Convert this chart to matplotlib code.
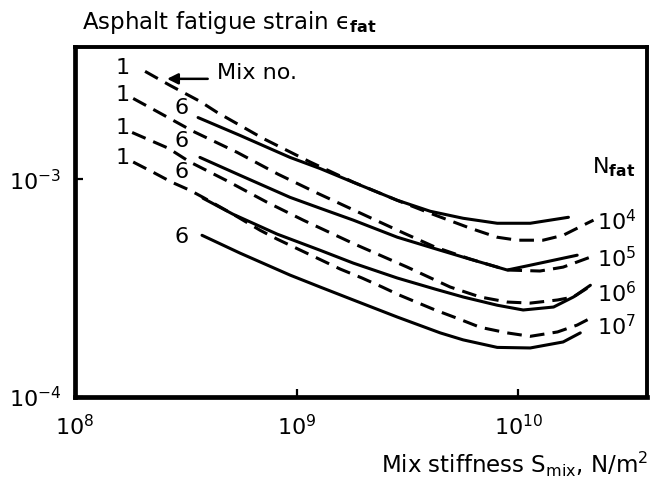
import matplotlib
matplotlib.use("Agg")
import matplotlib.pyplot as plt

# values (mix stiffness N/m2, fatigue strain)
# mix 1 -> dashed, mix 6 -> solid, one pair per N_fat
n_labels = ["$10^4$", "$10^5$", "$10^6$", "$10^7$"]

mix1_x = [
    [2.07e8, 2.68e8, 3.66e8, 4.37e8, 7.05e8, 1.15e9, 1.80e9, 2.84e9, 4.0e9,
     6.06e9, 8.0e9, 9.9e9, 1.29e10, 1.59e10, 2.04e10, 2.18e10],
    [1.83e8, 2.30e8, 3.41e8, 5.38e8, 8.24e8, 1.24e9, 2.08e9, 3.05e9, 4.21e9,
     6.06e9, 8.9e9, 1.25e10, 1.59e10, 2.11e10],
    [1.81e8, 2.63e8, 3.30e8, 4.80e8, 7.35e8, 1.07e9, 1.83e9, 3.15e9, 4.92e9,
     6.72e9, 8.9e9, 1.13e10, 1.50e10, 1.77e10, 2.04e10],
    [1.83e8, 2.25e8, 2.74e8, 3.30e8, 3.78e8, 5.16e8, 6.84e8, 8.16e8, 1.21e9,
     1.57e9, 1.97e9, 2.43e9, 2.90e9, 3.64e9, 4.21e9, 5.29e9, 6.72e9, 8.9e9,
     1.13e10, 1.50e10, 1.84e10, 2.11e10],
]
mix1_y = [
    [3.13e-3, 2.70e-3, 2.28e-3, 2.03e-3, 1.54e-3, 1.20e-3, 9.7e-4, 8.0e-4, 6.98e-4,
     5.96e-4, 5.42e-4, 5.25e-4, 5.25e-4, 5.53e-4, 6.28e-4, 6.49e-4],
    [2.35e-3, 2.07e-3, 1.66e-3, 1.33e-3, 1.055e-3, 8.63e-4, 6.76e-4, 5.65e-4, 4.88e-4,
     4.30e-4, 3.83e-4, 3.79e-4, 3.95e-4, 4.39e-4],
    [1.64e-3, 1.39e-3, 1.20e-3, 9.89e-4, 7.84e-4, 6.49e-4, 5.03e-4, 3.95e-4, 3.20e-4,
     2.88e-4, 2.73e-4, 2.70e-4, 2.79e-4, 2.88e-4, 3.16e-4],
    [1.20e-3, 1.077e-3, 9.68e-4, 8.90e-4, 8.26e-4, 6.91e-4, 5.83e-4, 5.31e-4, 4.39e-4,
     3.87e-4, 3.52e-4, 3.20e-4, 2.94e-4, 2.67e-4, 2.51e-4, 2.30e-4, 2.09e-4, 1.97e-4,
     1.90e-4, 1.99e-4, 2.14e-4, 2.30e-4],
]

mix6_x = [
    [3.59e8, 5.55e8, 9.33e8, 1.275e9, 1.80e9, 2.84e9, 4.0e9, 5.63e9, 8.02e9,
     1.13e10, 1.68e10],
    [3.66e8, 5.55e8, 9.33e8, 1.275e9, 1.80e9, 2.84e9, 4.44e9, 5.63e9, 8.9e9,
     1.13e10, 1.84e10],
    [3.78e8, 5.16e8, 8.16e8, 1.275e9, 1.80e9, 2.84e9, 4.21e9, 5.63e9, 8.02e9,
     1.05e10, 1.44e10, 1.77e10, 2.11e10],
    [3.74e8, 5.55e8, 9.33e8, 1.275e9, 1.80e9, 2.84e9, 4.44e9, 5.63e9, 8.02e9,
     1.13e10, 1.59e10, 1.90e10],
]
mix6_y = [
    [1.92e-3, 1.59e-3, 1.26e-3, 1.12e-3, 9.68e-4, 8.01e-4, 7.13e-4, 6.62e-4, 6.28e-4,
     6.28e-4, 6.69e-4],
    [1.26e-3, 1.043e-3, 8.26e-4, 7.36e-4, 6.49e-4, 5.42e-4, 4.72e-4, 4.39e-4, 3.83e-4,
     4.03e-4, 4.48e-4],
    [8.18e-4, 6.91e-4, 5.60e-4, 4.72e-4, 4.12e-4, 3.52e-4, 3.13e-4, 2.88e-4, 2.64e-4,
     2.51e-4, 2.59e-4, 2.88e-4, 3.26e-4],
    [5.53e-4, 4.58e-4, 3.63e-4, 3.20e-4, 2.79e-4, 2.33e-4, 1.97e-4, 1.83e-4, 1.69e-4,
     1.68e-4, 1.79e-4, 1.97e-4],
]

plt.rcParams["font.family"] = ["DejaVu Sans"]
plt.rcParams["mathtext.fontset"] = "dejavusans"

fig = plt.figure(figsize=(6.51, 4.91), dpi=100)
ax = fig.add_axes([0.1152, 0.1914, 0.8787, 0.7129])

lw = 2.2
for xs, ys in zip(mix1_x, mix1_y):
    ax.plot(xs, ys, color="black", lw=lw, dashes=(4.8, 2.7),
            solid_capstyle="butt", dash_capstyle="butt")
for xs, ys in zip(mix6_x, mix6_y):
    ax.plot(xs, ys, color="black", lw=lw, solid_capstyle="round",
            solid_joinstyle="round")

ax.set_xscale("log")
ax.set_yscale("log")
ax.set_xlim(1e8, 3.8e10)
ax.set_ylim(1e-4, 4.05e-3)
ax.minorticks_off()
ax.set_xticks([1e8, 1e9, 1e10])
ax.set_xticklabels(["$10^8$", "$10^9$", "$10^{10}$"])
ax.set_yticks([1e-4, 1e-3])
ax.set_yticklabels(["$10^{-4}$", "$10^{-3}$"])
ax.tick_params(axis="x", direction="in", length=6, width=1.6, pad=12, labelsize=16)
ax.tick_params(axis="y", direction="in", length=6, width=1.6, pad=10, labelsize=16)
for side in ["left", "bottom"]:
    ax.spines[side].set_linewidth(3.4)
for side in ["top", "right"]:
    ax.spines[side].set_linewidth(2.8)

# mix number labels
tr = ax.transAxes
for yf in [0.94, 0.863, 0.769, 0.683]:
    ax.text(0.084, yf, "1", transform=tr, fontsize=16, ha="center", va="center")
for yf in [0.826, 0.731, 0.643, 0.457]:
    ax.text(0.187, yf, "6", transform=tr, fontsize=16, ha="center", va="center")
ax.text(0.248, 0.926, "Mix no.", transform=tr, fontsize=16, ha="left", va="center")
ax.annotate("", xy=(0.161, 0.909), xytext=(0.232, 0.909), xycoords=tr,
            arrowprops=dict(arrowstyle="-|>", lw=1.8, color="black",
                            mutation_scale=16, shrinkA=0, shrinkB=0))

# N_fat labels on the right
ax.text(0.904, 0.64, r"N$_{\mathbf{fat}}$", transform=tr, fontsize=16,
        ha="left", va="baseline")
for lab, yf in zip(n_labels, [0.477, 0.371, 0.271, 0.177]):
    ax.text(0.913, yf, lab, transform=tr, fontsize=16, ha="left", va="baseline")

fig.text(0.126, 0.941, "Asphalt fatigue strain ϵ$_{\\mathbf{fat}}$",
         fontsize=16.5, ha="left", va="baseline")
fig.text(0.995, 0.037, r"Mix stiffness S$_{\mathrm{mix}}$, N/m$^2$",
         fontsize=16.5, ha="right", va="baseline")

fig.savefig("out.png", dpi=100)
